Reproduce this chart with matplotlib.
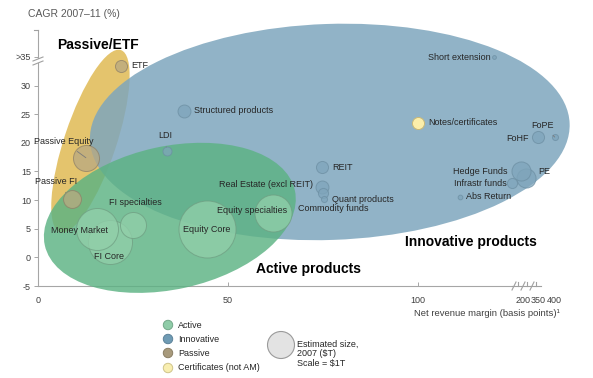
import numpy as np
import matplotlib
matplotlib.use("Agg")
import matplotlib.pyplot as plt
from matplotlib.patches import Ellipse, Circle, Rectangle
from matplotlib.transforms import Affine2D, ScaledTranslation

plt.rcParams['font.family'] = ['Liberation Sans', 'DejaVu Sans']

# ---------------- data ----------------
names = ["ETF", "Structured products", "LDI", "Passive Equity", "Passive FI",
         "Money Market", "FI Core", "FI specialties", "Equity Core",
         "Equity specialties", "REIT", "Real Estate (excl REIT)", "Quant products",
         "Commodity funds", "Short extension", "Notes/certificates", "FoHF", "FoPE",
         "Hedge Funds", "PE", "Infrastr funds", "Abs Return"]
categories = ["Passive", "Innovative", "Innovative", "Passive", "Passive",
              "Active", "Active", "Active", "Active",
              "Active", "Innovative", "Innovative", "Innovative",
              "Innovative", "Innovative", "Certificates", "Innovative", "Innovative",
              "Innovative", "Innovative", "Innovative", "Innovative"]
margin_bp = [21.8, 38.4, 33.9, 12.6, 8.9,
             15.5, 18.9, 25.0, 44.5,
             61.8, 74.7, 74.7, 75.0,
             75.3, 173, 100, 350, 405,
             198, 230, 190, 140]
cagr = [33.5, 25.6, 18.5, 17.4, 10.2,
        5.0, 2.7, 5.7, 5.0,
        7.8, 15.8, 12.3, 11.3,
        10.2, 34.9, 23.5, 21.0, 21.0,
        15.1, 13.9, 13.0, 10.6]
size_T = [0.20, 0.23, 0.11, 0.93, 0.44,
          2.42, 2.66, 0.93, 4.46,
          1.88, 0.20, 0.23, 0.14,
          0.05, 0.02, 0.20, 0.20, 0.05,
          0.50, 0.50, 0.14, 0.03]

x_ticks = [0, 50, 100, 200, 350, 400]
x_ticklabels = ["0", "50", "100", "200", "350", "400"]
y_ticks = [-5, 0, 5, 10, 15, 20, 25, 30, 35]
y_ticklabels = ["-5", "0", "5", "10", "15", "20", "25", "30", ">35"]
legend_labels = ["Active", "Innovative", "Passive", "Certificates (not AM)"]

# broken x axis: real margin -> axis position
XR = [-1000, 0, 100, 200, 350, 400, 1000]
XP = [-1000, 0, 100, 127.6, 131.6, 135.8, 161.0]
fwd = lambda v: np.interp(v, XR, XP)
inv = lambda p: np.interp(p, XP, XR)

# ---------------- styles ----------------
face = {"Active": "#92d0aa", "Innovative": "#7fa5bb", "Passive": "#b9a982",
        "Certificates": "#fbeeaa"}
edge = {"Active": "#6f9e82", "Innovative": "#6d8fa3", "Passive": "#8e8068",
        "Certificates": "#c8b878"}
legend_face = ["#8fcca8", "#6f9bb4", "#a89a7c", "#f8eeb0"]
legend_edge = ["#72a888", "#5c8299", "#8a7e64", "#cfc48a"]

# label layout: (dx px, dy px up, ha, leader)
label_layout = {
    "ETF": (10, 0, "left", False),
    "Structured products": (10, 0, "left", False),
    "LDI": (-2, 16, "center", True),
    "Passive Equity": (-22, 16, "center", True),
    "Passive FI": (-16, 17, "center", True),
    "Money Market": (-17, -2, "center", False),
    "FI Core": (-1, -15, "center", False),
    "FI specialties": (2, 22, "center", False),
    "Equity Core": (0, -1, "center", False),
    "Equity specialties": (-21, 2, "center", False),
    "REIT": (10, -1, "left", False),
    "Real Estate (excl REIT)": (-9, 2, "right", False),
    "Quant products": (9, -7, "left", False),
    "Commodity funds": (-26, -10, "left", False),
    "Short extension": (-4, 0, "right", False),
    "Notes/certificates": (10, 0, "left", False),
    "FoHF": (-9, -1, "right", False),
    "FoPE": (-12, 12, "center", True),
    "Hedge Funds": (-13, -1, "right", False),
    "PE": (12, 6, "left", False),
    "Infrastr funds": (-6, -1, "right", False),
    "Abs Return": (6, 0, "left", False),
}

R1T = 13.5  # px radius of a $1T bubble

fig = plt.figure(figsize=(5.93, 3.78), dpi=100)
ax = fig.add_axes([38/593, 1-286/378, 522/593, 256/378])
ax.set_xscale('function', functions=(fwd, inv))
ax.set_xlim(0, 438)
ax.set_ylim(-5, 39.7)
ax.patch.set_visible(False)

# group ellipses (centre in data, semi-axes in inches, angle deg)
def group_ellipse(cx, cy, a_in, b_in, ang, color, alpha, z):
    tr = (Affine2D().scale(a_in, b_in).rotate_deg(ang) + fig.dpi_scale_trans
          + ScaledTranslation(cx, cy, ax.transData))
    e = Ellipse((0, 0), 2, 2, transform=tr, facecolor=color, edgecolor='none',
                alpha=alpha, zorder=z, clip_on=False)
    ax.add_patch(e)

group_ellipse(13.8, 20.3, 0.96, 0.26, 71.5, "#e2bf61", 0.92, 1)
group_ellipse(76.8, 21.9, 2.40, 1.08, 2, "#7ea6bd", 0.85, 2)
group_ellipse(34.7, 6.9, 1.28, 0.715, 12.4, "#5cb283", 0.82, 3)

# bubbles
order = np.argsort(size_T)[::-1]
for i in order:
    r_px = R1T * np.sqrt(size_T[i])
    s = (2 * r_px * 0.72) ** 2
    c = categories[i]
    ax.scatter([margin_bp[i]], [cagr[i]], s=s, facecolor=face[c], edgecolor=edge[c],
               linewidth=0.7, alpha=0.75 if c != "Certificates" else 1.0,
               zorder=5, clip_on=False)

for i, n in enumerate(names):
    dx, dy, ha, lead = label_layout[n]
    r_px = R1T * np.sqrt(size_T[i])
    kw = {}
    if lead:
        kw['arrowprops'] = dict(arrowstyle='-', color='#7a7a7a', lw=0.6,
                                shrinkA=3, shrinkB=r_px * 0.72)
    ax.annotate(n, xy=(margin_bp[i], cagr[i]), xytext=(dx * 0.72, dy * 0.72),
                textcoords='offset points', ha=ha, va='center', fontsize=6.5,
                color='#262626', zorder=7, annotation_clip=False, **kw)

# group titles
ax.text(5.0, 37.1, "Passive/ETF", fontsize=10, fontweight='bold', va='center',
        ha='left', color='black', zorder=8)
ax.text(inv(96.6), 2.6, "Innovative products", fontsize=10, fontweight='bold',
        va='center', ha='left', color='black', zorder=8)
ax.text(57.4, -2.0, "Active products", fontsize=10, fontweight='bold',
        va='center', ha='left', color='black', zorder=8)

# axes styling
for sp in ['top', 'right']:
    ax.spines[sp].set_visible(False)
for sp in ['left', 'bottom']:
    ax.spines[sp].set_color('#a6a6a6')
    ax.spines[sp].set_linewidth(0.8)
ax.spines['bottom'].set_bounds(0, inv((512 - 38) / 3.8))
ax.set_xticks(x_ticks)
ax.set_xticklabels(x_ticklabels)
ax.set_yticks(y_ticks)
ax.set_yticklabels(y_ticklabels)
ax.tick_params(axis='x', direction='in', length=3, width=0.7, color='#a6a6a6',
               labelsize=6.5, labelcolor='#404040', pad=7)
ax.tick_params(axis='y', direction='out', length=3, width=0.7, color='#a6a6a6',
               labelsize=6.5, labelcolor='#404040', pad=2)
xt = ax.xaxis.get_major_ticks()
for k in (3, 4, 5):
    xt[k].tick1line.set_visible(False)

# overlay (pixel coordinates) for axis breaks and legend
ov = fig.add_axes([0, 0, 1, 1], zorder=10)
ov.set_xlim(0, 593)
ov.set_ylim(378, 0)
ov.axis('off')
ov.patch.set_visible(False)
g = '#a0a0a0'
# y-axis break
ov.add_patch(Rectangle((36.5, 58.5), 3, 4.5, facecolor='white', edgecolor='none'))
ov.plot([33, 43], [61, 57], color=g, lw=0.8)
ov.plot([33, 43], [65, 61], color=g, lw=0.8)
ov.plot([34, 38], [30, 30], color=g, lw=0.8)
# x-axis break
ov.plot([512, 541], [286, 286], color=g, lw=0.8)
for xb in (514, 523, 532):
    ov.plot([xb - 2, xb + 2], [290, 282], color=g, lw=0.8)
for xb in (518, 527, 536):
    ov.plot([xb, xb], [286, 282], color=g, lw=0.8)

# legend
ly = [325, 339, 353, 368]
for k, lab in enumerate(legend_labels):
    ov.add_patch(Circle((168, ly[k]), 4.7, facecolor=legend_face[k],
                        edgecolor=legend_edge[k], lw=0.7))
    ov.text(178, ly[k], lab, fontsize=6.5, color='#262626', va='center', ha='left')
ov.add_patch(Circle((281, 345), R1T, facecolor='#e3e3e3', edgecolor='#9a9a9a', lw=0.8))
ov.text(297, 354, "Estimated size,\n2007 ($T)\nScale = $1T", fontsize=6.5,
        color='#262626', va='center', ha='left', linespacing=1.05)

fig.text(28/593, 1 - 14/378, "CAGR 2007\u201311 (%)", fontsize=7.5, color='#595959',
         va='center', ha='left')
fig.text(560/593, 1 - 313/378, "Net revenue margin (basis points)\u00b9", fontsize=6.8,
         color='#404040', va='center', ha='right')

fig.savefig("out.png", dpi=100)
